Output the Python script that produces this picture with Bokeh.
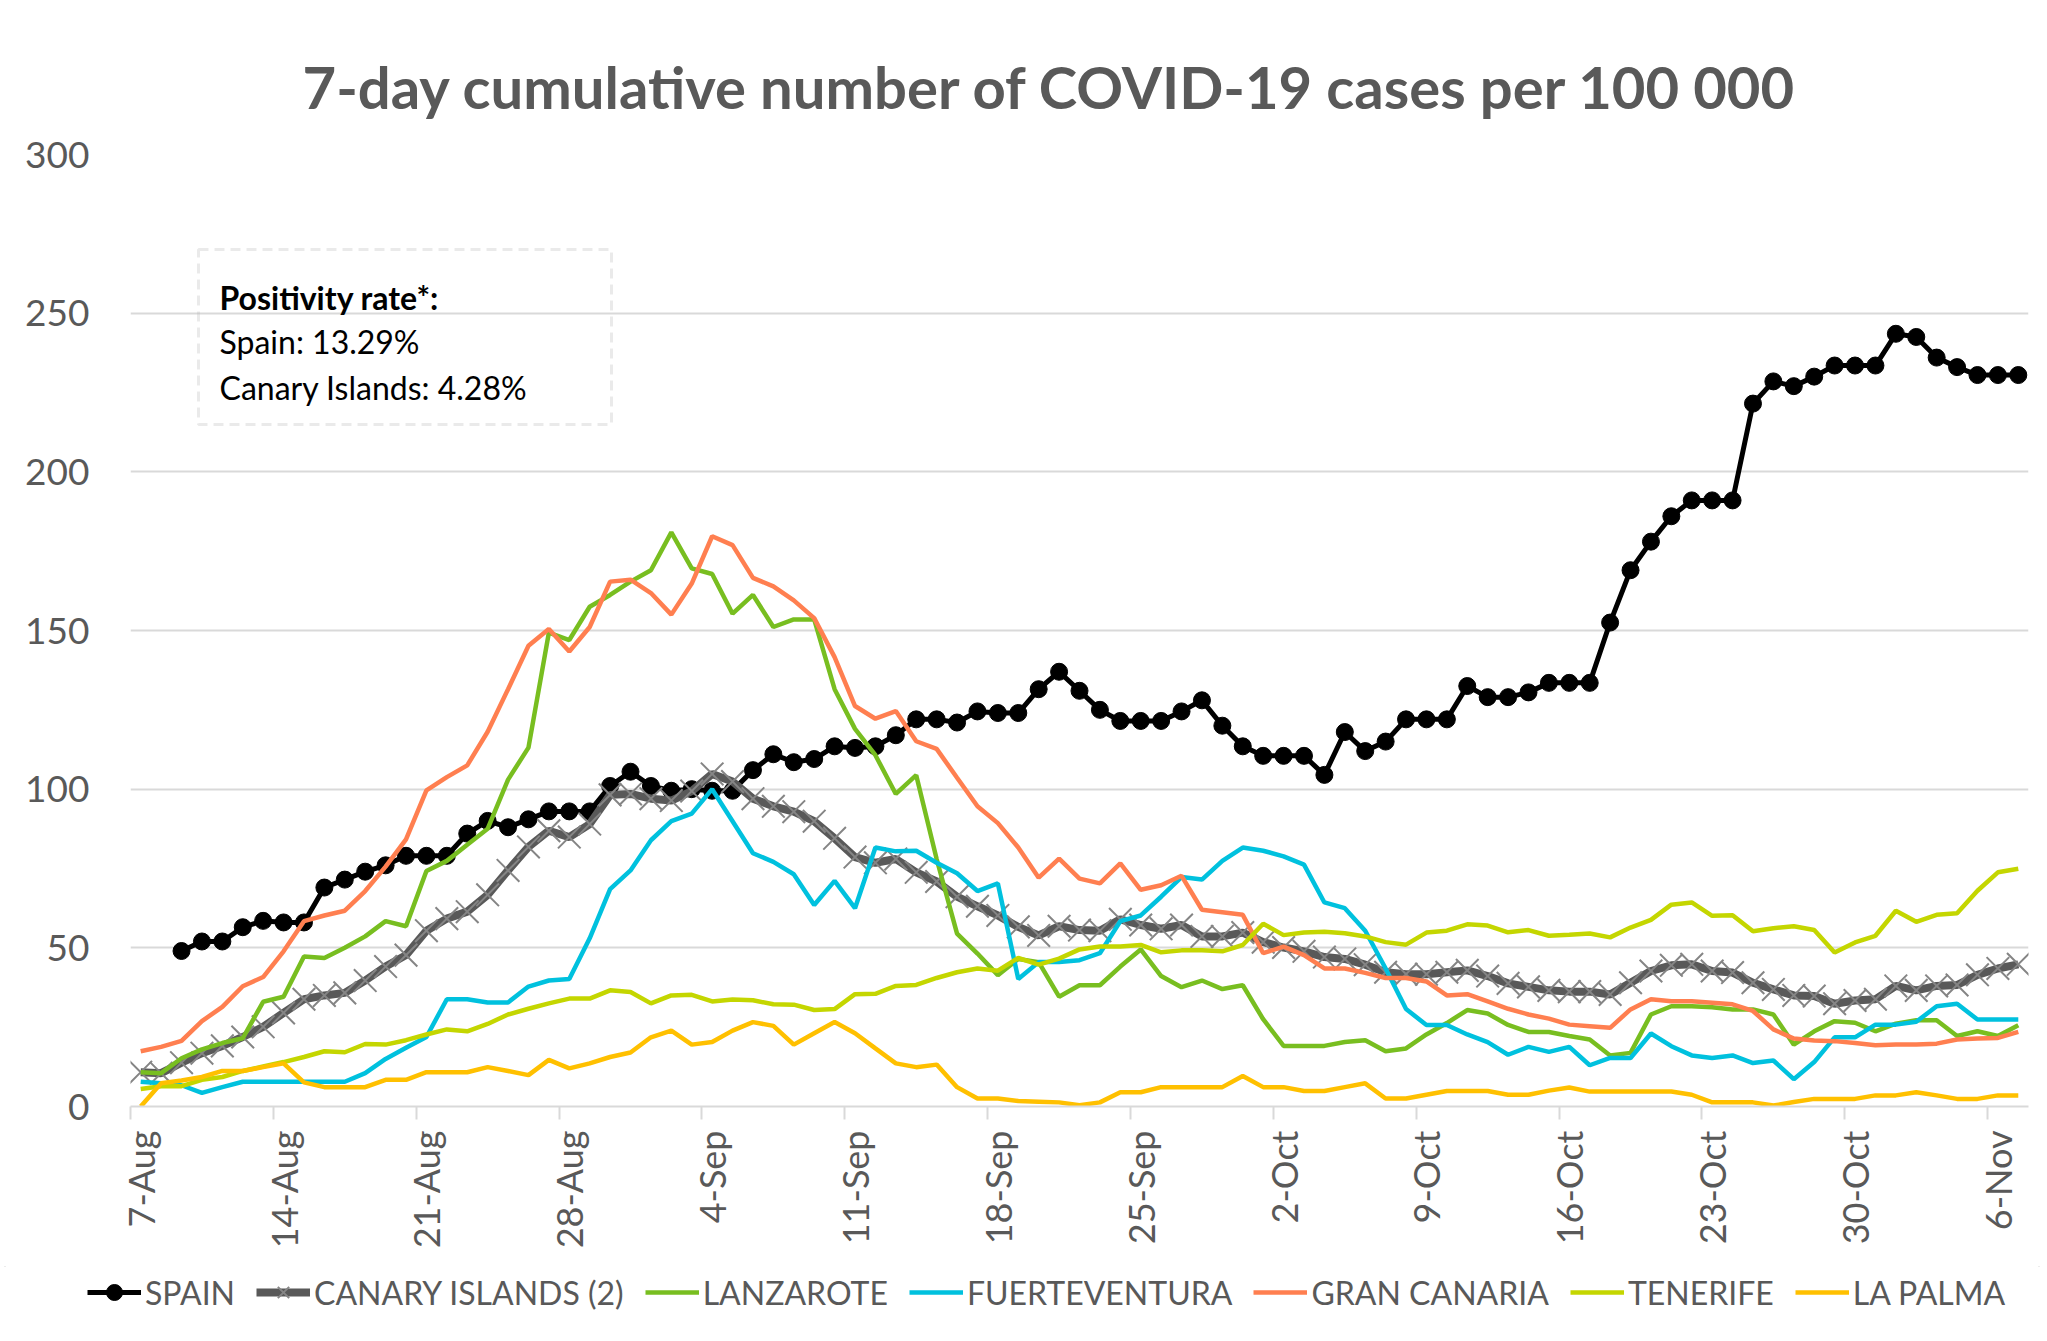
import math
import numpy as np
from bokeh.plotting import figure
from bokeh.layouts import column
from bokeh.models import FixedTicker, Range1d, Legend, LegendItem, Label, BoxAnnotation
from bokeh.embed import file_html
from bokeh.resources import INLINE

# ---------------- data (7-Aug ... 7-Nov, one value per day) ----------------
tick_labels = ["7-Aug", "14-Aug", "21-Aug", "28-Aug", "4-Sep", "11-Sep", "18-Sep",
               "25-Sep", "2-Oct", "9-Oct", "16-Oct", "23-Oct", "30-Oct", "6-Nov"]

spain = [None, None, 49, 52, 52, 56.5, 58.5, 58, 58, 69, 71.5, 74, 76, 79, 79, 79, 86, 90, 88, 90.5,
         93, 93, 93, 101, 105.5, 101, 99.5, 100, 99.5, 99.5, 106, 111, 108.5, 109.5, 113.5, 113, 113.5, 117, 122, 122,
         121, 124.5, 124, 124, 131.5, 137, 131, 125, 121.5, 121.5, 121.5, 124.5, 128, 120, 113.5, 110.5, 110.5, 110.5, 104.5, 118,
         112, 115, 122, 122, 122, 132.5, 129, 129, 130.5, 133.5, 133.5, 133.5, 152.5, 169, 178, 186, 191, 191, 191, 221.5,
         228.5, 227, 230, 233.5, 233.5, 233.5, 243.5, 242.5, 236, 233, 230.5, 230.5, 230.5]

canary = [10.8, 10.5, 13.8, 16.8, 19.1, 21.9, 25.1, 29.5, 33.8, 35, 35.8, 39.7, 44.1, 47.7, 55.4, 59.2, 61.4, 66.7, 74.4, 81.8,
          86.9, 84.9, 89, 98.2, 98.5, 97, 96.4, 99.4, 104.8, 102.4, 97, 94.6, 92.9, 89.9, 84.5, 78.6, 76.8, 78, 73.8, 70.9,
          66.1, 63.1, 60.2, 56.6, 53.9, 56.8, 55.6, 55.4, 59, 57.2, 56, 57.2, 53.6, 53.6, 54.8, 51.8, 50.1, 48.9, 47.1, 46.5,
          44.7, 42.3, 41.7, 41.7, 42.3, 42.9, 41.1, 38.8, 37.7, 36.6, 36.2, 36.2, 35.3, 39, 42.7, 44.5, 44.8, 42.7, 42.2, 39,
          36.9, 35, 34.8, 32.4, 33.4, 33.8, 38, 36.6, 38, 38.3, 41.5, 43.5, 44.8]

lanzarote = [10.8, 10.5, 15.2, 18, 20, 21.5, 33, 34.6, 47.3, 46.8, 50, 53.6, 58.4, 56.8, 74.2, 77.4, 82.5, 87.5, 103, 113.1,
             149.3, 147, 157.5, 161.2, 165.4, 169, 180.9, 169.6, 167.8, 155.3, 161.2, 151.1, 153.5, 153.5, 131.5, 119, 110.7, 98.5, 104.4, 78,
             54.5, 48.2, 41.4, 46.5, 45.5, 34.6, 38.2, 38.2, 44.1, 49.5, 41.1, 37.6, 39.7, 37, 38.2, 27.5, 19.1, 19.1, 19.1, 20.3,
             20.9, 17.4, 18.3, 22.7, 26.3, 30.4, 29.3, 25.7, 23.5, 23.5, 22.2, 21.1, 16.1, 16.9, 29, 31.6, 31.6, 31.3, 30.6, 30.6,
             29, 19.5, 23.7, 26.9, 26.4, 23.7, 26.1, 27.2, 27.2, 22.2, 23.7, 22.2, 25.6]

fuerteventura = [7.8, 7.3, 6.7, 4.3, 6.1, 7.8, 7.8, 7.8, 7.8, 7.8, 7.8, 10.5, 15, 18.5, 21.9, 33.8, 33.8, 32.8, 32.8, 37.8,
                 39.7, 40.2, 53, 68.5, 74.4, 83.9, 89.9, 92.3, 100, 89.9, 79.8, 77.1, 73.2, 63.5, 71.1, 62.5, 81.6, 80.4, 80.6, 76.8,
                 73.5, 67.9, 70.3, 40.2, 45.5, 45.5, 46.1, 48.3, 58.4, 60.2, 66.1, 72.3, 71.5, 77.4, 81.6, 80.6, 78.8, 76.2, 64.3, 62.5,
                 55.4, 43.5, 30.7, 25.7, 25.7, 22.7, 20.3, 16.3, 18.8, 17.2, 18.8, 13, 15.3, 15.3, 23, 19, 16.1, 15.3, 16.1, 13.7,
                 14.5, 8.6, 14, 21.8, 21.8, 25.8, 25.8, 26.7, 31.6, 32.4, 27.4, 27.4, 27.4]

gran_canaria = [17.4, 18.8, 20.7, 26.9, 31.4, 37.9, 40.8, 48.9, 58.4, 60.2, 61.7, 67.9, 75.6, 84.2, 99.6, 103.8, 107.5, 118.1, 131.5, 145.2,
                150.5, 143.4, 151.1, 165.4, 166, 161.8, 155, 164.8, 179.7, 176.9, 166.6, 163.9, 159.5, 153.9, 141.6, 126.2, 122.2, 124.6, 115.1, 112.7,
                103.6, 94.6, 89.3, 81.6, 72.1, 78.1, 71.8, 70.3, 76.6, 68.3, 69.7, 72.7, 62, 61.2, 60.4, 48.3, 50.4, 47.7, 43.5, 43.5,
                42.1, 40.5, 40.5, 39.4, 35, 35.4, 33.1, 30.8, 29, 27.7, 25.8, 25.3, 24.8, 30.6, 33.8, 33.2, 33.2, 32.7, 32.2, 30.1,
                24.3, 21.4, 20.8, 20.6, 20, 19.3, 19.5, 19.5, 19.8, 21.1, 21.4, 21.6, 23.5]

tenerife = [5.5, 6.4, 6.4, 8.4, 9.3, 11.2, 12.6, 14, 15.6, 17.4, 17.1, 19.7, 19.5, 20.9, 22.7, 24.3, 23.7, 26, 29, 30.8,
            32.5, 34, 34, 36.6, 36.1, 32.5, 35, 35.2, 33.1, 33.7, 33.5, 32.2, 32.1, 30.4, 30.7, 35.4, 35.5, 38, 38.3, 40.5,
            42.3, 43.5, 42.8, 46.8, 44.7, 46.6, 49.5, 50.4, 50.4, 50.9, 48.6, 49.2, 49.2, 48.9, 50.9, 57.6, 54, 54.8, 55.1, 54.6,
            53.6, 51.8, 51, 54.8, 55.4, 57.4, 57, 54.9, 55.6, 53.8, 54.1, 54.5, 53.3, 56.4, 58.8, 63.6, 64.3, 60.1, 60.3, 55.2,
            56.2, 56.8, 55.6, 48.5, 51.7, 53.8, 61.7, 58.2, 60.4, 60.9, 68, 73.8, 74.9]

la_palma = [0, 7.3, 8.2, 9.3, 11.2, 11.2, 12.4, 13.6, 7.6, 6.1, 6.1, 6.1, 8.4, 8.4, 10.8, 10.8, 10.8, 12.4, 11.2, 9.9,
            14.7, 12, 13.6, 15.6, 17, 21.8, 23.9, 19.5, 20.3, 23.9, 26.6, 25.4, 19.5, 23.1, 26.6, 23.1, 18.3, 13.6, 12.4, 13.2,
            6.1, 2.5, 2.5, 1.7, 1.5, 1.3, 0.4, 1.3, 4.5, 4.5, 6.1, 6.1, 6.1, 6.1, 9.6, 6.1, 6.1, 4.9, 4.9, 6.1,
            7.3, 2.5, 2.5, 3.7, 4.9, 4.9, 4.9, 3.7, 3.7, 5, 6, 4.7, 4.7, 4.7, 4.7, 4.7, 3.7, 1.3, 1.3, 1.3,
            0.3, 1.4, 2.4, 2.4, 2.4, 3.5, 3.5, 4.5, 3.5, 2.4, 2.4, 3.5, 3.5]

y_ticks = [0, 50, 100, 150, 200, 250, 300]

series_names = ["SPAIN", "CANARY ISLANDS (2)", "LANZAROTE", "FUERTEVENTURA",
                "GRAN CANARIA", "TENERIFE", "LA PALMA"]

# ---------------- styles ----------------
FONT = "Lato"
GREY_TXT = "#595959"
GRID = "#d9d9d9"
LINE_COLORS = {"LANZAROTE": "#78BE20", "FUERTEVENTURA": "#00C1DE",
               "GRAN CANARIA": "#FF7F50", "TENERIFE": "#C4D600", "LA PALMA": "#FFC000"}

n = len(canary)
day = np.arange(n)
spain_arr = np.array([np.nan if v is None else v for v in spain], dtype=float)
series = {"SPAIN": spain_arr, "CANARY ISLANDS (2)": canary, "LANZAROTE": lanzarote,
          "FUERTEVENTURA": fuerteventura, "GRAN CANARIA": gran_canaria,
          "TENERIFE": tenerife, "LA PALMA": la_palma}

W = 2044
H_MAIN, H_LEG = 1266, 72

# ---------------- main figure ----------------
p = figure(width=W, height=H_MAIN, output_backend="svg", toolbar_location=None,
           x_range=Range1d(-0.5, n - 0.5), y_range=Range1d(0, 300),
           min_border_left=130, min_border_right=16, min_border_top=154, min_border_bottom=160,
           background_fill_color="white", border_fill_color="white")
p.frame_align = False
p.outline_line_color = None

p.title.text = "7-day cumulative number of COVID-19 cases per 100 000"
p.title.text_font = FONT
p.title.text_font_style = "bold"
p.title.text_font_size = "58px"
p.title.text_color = GREY_TXT
p.title.align = "left"
p.title.offset = 172
p.title.standoff = 68

# reference pixel positions -> data coordinates (for the annotation box)
FX0, FX1, FY0, FY1 = 130.0, 2028.0, 154.0, 1106.0
def dx(px):
    return -0.5 + (px - FX0) * n / (FX1 - FX0)
def dy(py):
    return (FY1 - py) * 300.0 / (FY1 - FY0)

# y axis
p.yaxis.ticker = FixedTicker(ticks=y_ticks)
p.yaxis.axis_line_color = None
p.yaxis.major_tick_line_color = None
p.yaxis.minor_tick_line_color = None
p.yaxis.major_tick_out = 0
p.yaxis.major_tick_in = 0
p.yaxis.major_label_standoff = 41
p.yaxis.major_label_text_font = FONT
p.yaxis.major_label_text_font_size = "37px"
p.yaxis.major_label_text_color = GREY_TXT
p.ygrid.grid_line_color = GRID
p.ygrid.grid_line_width = 2
p.xgrid.grid_line_color = None

# x axis: labels centred on the day, tick marks at day boundaries
major = [7 * k for k in range(len(tick_labels))]
p.xaxis.ticker = FixedTicker(ticks=major, minor_ticks=[m - 0.5 for m in major])
p.xaxis.major_label_overrides = {m: lbl for m, lbl in zip(major, tick_labels)}
p.xaxis.major_tick_out = 0
p.xaxis.major_tick_in = 0
p.xaxis.major_tick_line_color = None
p.xaxis.minor_tick_out = 13
p.xaxis.minor_tick_in = 0
p.xaxis.minor_tick_line_color = GRID
p.xaxis.minor_tick_line_width = 2
p.xaxis.axis_line_color = GRID
p.xaxis.axis_line_width = 2
p.xaxis.major_label_orientation = math.pi / 2
p.xaxis.major_label_standoff = 11
p.xaxis.major_label_text_font = FONT
p.xaxis.major_label_text_font_size = "36px"
p.xaxis.major_label_text_color = GREY_TXT

def draw(fig, xs, data):
    rs = {}
    rs["SPAIN"] = [fig.line(xs, data["SPAIN"], line_color="black", line_width=5),
                   fig.scatter(xs, data["SPAIN"], marker="circle", size=17,
                               fill_color="black", line_color="black")]
    rs["CANARY ISLANDS (2)"] = [fig.line(xs, data["CANARY ISLANDS (2)"], line_color="#595959", line_width=8),
                                fig.scatter(xs, data["CANARY ISLANDS (2)"], marker="x", size=32,
                                            line_color="#858585", line_width=2)]
    for name in ["LANZAROTE", "FUERTEVENTURA", "GRAN CANARIA", "TENERIFE", "LA PALMA"]:
        rs[name] = [fig.line(xs, data[name], line_color=LINE_COLORS[name], line_width=4.5)]
    return rs

draw(p, day, series)

# positivity box
p.add_layout(BoxAnnotation(left=dx(198), right=dx(611), top=dy(249), bottom=dy(424),
                           fill_alpha=0, line_color="#b8b8b8", line_width=3, line_dash="10 6"))
for txt, base, style in [("Positivity rate*:", 297, "bold"),
                         ("Spain: 13.29%", 341, "normal"),
                         ("Canary Islands: 4.28%", 387, "normal")]:
    p.add_layout(Label(x=dx(219), y=dy(base), text=txt, text_font=FONT, text_font_style=style,
                       text_font_size="32px", text_color="black", text_baseline="alphabetic"))

# ---------------- legend strip: same series, y range chosen so no data is in view ----------------
q = figure(width=W, height=H_LEG, output_backend="svg", toolbar_location=None, title=None,
           x_range=Range1d(-0.5, n - 0.5), y_range=Range1d(1000, 1001),
           x_axis_location=None, y_axis_location=None,
           min_border=0, background_fill_color="white", border_fill_color="white")
q.frame_align = False
q.outline_line_color = None
q.grid.visible = False
legend_rs = draw(q, day, series)
legend = Legend(items=[LegendItem(label=k, renderers=legend_rs[k]) for k in series_names],
                orientation="horizontal", location=(87, 26), glyph_width=54, glyph_height=40,
                label_standoff=4, spacing=21, padding=0, margin=0, border_line_color=None,
                background_fill_alpha=0, label_text_font=FONT, label_text_font_size="32px",
                label_text_color=GREY_TXT)
q.add_layout(legend)

layout = column(p, q, spacing=0,
                styles={"outline": "2px solid #d9d9d9", "outline-offset": "-6px"})
open("out.html", "w").write(file_html(layout, INLINE))
